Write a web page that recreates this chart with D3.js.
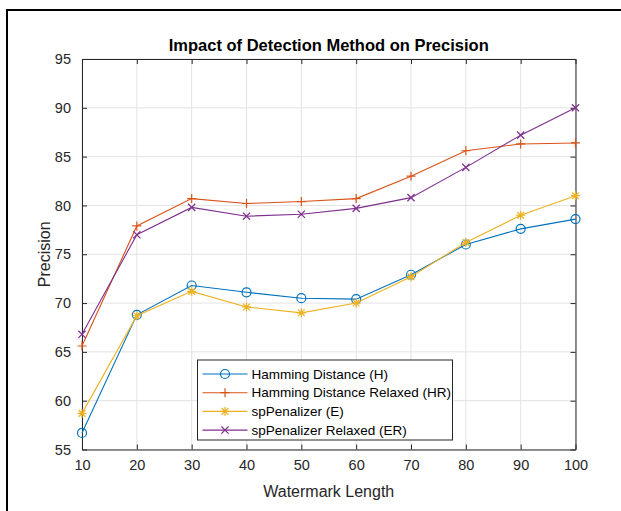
<!DOCTYPE html>
<html>
<head>
<meta charset="utf-8">
<script src="https://cdn.jsdelivr.net/npm/d3@7"></script>
<style>
  html, body { margin: 0; padding: 0; background: #fff; }
  svg { display: block; font-family: "Liberation Sans", Arial, Helvetica, sans-serif; }
</style>
</head>
<body>
<svg id="chart" width="621" height="511"></svg>
<script>
// ── Data ──────────────────────────────────────────────────────────────────────

const watermarkLengths = [10, 20, 30, 40, 50, 60, 70, 80, 90, 100];
const hamming          = [56.7, 68.8, 71.8, 71.1, 70.5, 70.4, 72.9, 76.0, 77.6, 78.6];
const hammingRelaxed   = [65.6, 77.9, 80.7, 80.2, 80.4, 80.7, 83.0, 85.6, 86.3, 86.4];
const spPenalizer      = [58.7, 68.7, 71.2, 69.6, 69.0, 70.0, 72.7, 76.2, 79.0, 81.0];
const spPenalizerRel   = [66.8, 77.0, 79.8, 78.9, 79.1, 79.7, 80.8, 83.9, 87.2, 90.0];

const seriesNames  = ["Hamming Distance (H)", "Hamming Distance Relaxed (HR)", "spPenalizer (E)", "spPenalizer Relaxed (ER)"];
const seriesValues = [hamming, hammingRelaxed, spPenalizer, spPenalizerRel];
const seriesColors = ["#0072BD", "#D95319", "#EDB120", "#7E2F8E"];
const seriesMarks  = ["circle", "plus", "star", "cross"];

const xTicks = [10, 20, 30, 40, 50, 60, 70, 80, 90, 100];
const yTicks = [55, 60, 65, 70, 75, 80, 85, 90, 95];

// ── Layout ────────────────────────────────────────────────────────────────────

const plot = { left: 82, right: 575.5, top: 59, bottom: 449.5 };
const TICK = 5;

const svg = d3.select("#chart");

const x = d3.scaleLinear().domain([10, 100]).range([plot.left, plot.right]);
const y = d3.scaleLinear().domain([55, 95]).range([plot.bottom, plot.top]);

// outer frame (partially visible)
svg.append("path")
  .attr("d", `M7,511 L7,10 L621,10`)
  .attr("fill", "none").attr("stroke", "#000").attr("stroke-width", 2);

// ── Grid ──────────────────────────────────────────────────────────────────────

const grid = svg.append("g").attr("stroke", "#e3e3e3").attr("stroke-width", 1);
grid.selectAll(".gx").data(xTicks).enter().append("line")
  .attr("x1", d => x(d)).attr("x2", d => x(d))
  .attr("y1", plot.top).attr("y2", plot.bottom);
grid.selectAll(".gy").data(yTicks).enter().append("line")
  .attr("x1", plot.left).attr("x2", plot.right)
  .attr("y1", d => y(d)).attr("y2", d => y(d));

// ── Axes (box with inward ticks on all sides) ─────────────────────────────────

const axisColor = "#262626";

const xAxisB = d3.axisBottom(x).tickValues(xTicks).tickSizeInner(-TICK).tickSizeOuter(0).tickPadding(10);
const xAxisT = d3.axisTop(x).tickValues(xTicks).tickSizeInner(-TICK).tickSizeOuter(0).tickFormat("");
const yAxisL = d3.axisLeft(y).tickValues(yTicks).tickSizeInner(-TICK).tickSizeOuter(0).tickPadding(11);
const yAxisR = d3.axisRight(y).tickValues(yTicks).tickSizeInner(-TICK).tickSizeOuter(0).tickFormat("");

function styleAxis(g) {
  g.select(".domain").attr("stroke", axisColor).attr("stroke-width", 1);
  g.selectAll(".tick line").attr("stroke", axisColor);
  g.selectAll(".tick text").attr("fill", axisColor)
    .style("font-size", "14.5px").style("font-family", "\"Liberation Sans\", Arial, sans-serif");
}

svg.append("g").attr("transform", `translate(0,${plot.bottom})`).call(xAxisB).call(styleAxis);
svg.append("g").attr("transform", `translate(0,${plot.top})`).call(xAxisT).call(styleAxis);
svg.append("g").attr("transform", `translate(${plot.left},0)`).call(yAxisL).call(styleAxis);
svg.append("g").attr("transform", `translate(${plot.right},0)`).call(yAxisR).call(styleAxis);

// ── Labels ────────────────────────────────────────────────────────────────────

const midX = (plot.left + plot.right) / 2;
const midY = (plot.top + plot.bottom) / 2;

svg.append("text")
  .attr("x", midX).attr("y", 51)
  .attr("text-anchor", "middle")
  .style("font-size", "16.5px").style("font-weight", "bold")
  .attr("fill", "#000")
  .text("Impact of Detection Method on Precision");

svg.append("text")
  .attr("x", midX).attr("y", 497)
  .attr("text-anchor", "middle")
  .style("font-size", "16px")
  .attr("fill", axisColor)
  .text("Watermark Length");

svg.append("text")
  .attr("transform", `translate(50,${midY}) rotate(-90)`)
  .attr("text-anchor", "middle")
  .style("font-size", "16px")
  .attr("fill", axisColor)
  .text("Precision");

// ── Markers ───────────────────────────────────────────────────────────────────

function drawMarker(g, kind, cx, cy, color) {
  const s = 4.5;
  if (kind === "circle") {
    g.append("circle").attr("cx", cx).attr("cy", cy).attr("r", s)
      .attr("fill", "none").attr("stroke", color).attr("stroke-width", 1.2);
    return;
  }
  let d = "";
  if (kind === "plus" || kind === "star") {
    d += `M${cx - s},${cy}L${cx + s},${cy}M${cx},${cy - s}L${cx},${cy + s}`;
  }
  if (kind === "cross" || kind === "star") {
    const k = kind === "star" ? s * 0.75 : s * 0.8;
    d += `M${cx - k},${cy - k}L${cx + k},${cy + k}M${cx - k},${cy + k}L${cx + k},${cy - k}`;
  }
  g.append("path").attr("d", d).attr("fill", "none").attr("stroke", color).attr("stroke-width", 1.2);
}

// ── Series ────────────────────────────────────────────────────────────────────

const line = d3.line().x(d => x(d[0])).y(d => y(d[1]));

seriesValues.forEach((vals, i) => {
  const pts = watermarkLengths.map((len, j) => [len, vals[j]]);
  const g = svg.append("g");
  g.append("path").datum(pts)
    .attr("d", line)
    .attr("fill", "none")
    .attr("stroke", seriesColors[i])
    .attr("stroke-width", 1.1);
  pts.forEach(p => drawMarker(g, seriesMarks[i], x(p[0]), y(p[1]), seriesColors[i]));
});

// ── Legend ────────────────────────────────────────────────────────────────────

const legend = { x: 197.5, y: 360, w: 255, h: 80, rowH: 18.7, firstRow: 374 };

const lg = svg.append("g");
lg.append("rect")
  .attr("x", legend.x).attr("y", legend.y)
  .attr("width", legend.w).attr("height", legend.h)
  .attr("fill", "#fff").attr("stroke", axisColor).attr("stroke-width", 1);

seriesNames.forEach((name, i) => {
  const ry = legend.firstRow + i * legend.rowH;
  lg.append("line")
    .attr("x1", legend.x + 5).attr("x2", legend.x + 50)
    .attr("y1", ry).attr("y2", ry)
    .attr("stroke", seriesColors[i]).attr("stroke-width", 1.1);
  drawMarker(lg, seriesMarks[i], legend.x + 27.5, ry, seriesColors[i]);
  lg.append("text")
    .attr("x", legend.x + 54).attr("y", ry + 4.6)
    .style("font-size", "13.5px")
    .attr("fill", "#000")
    .text(name);
});
</script>
</body>
</html>
